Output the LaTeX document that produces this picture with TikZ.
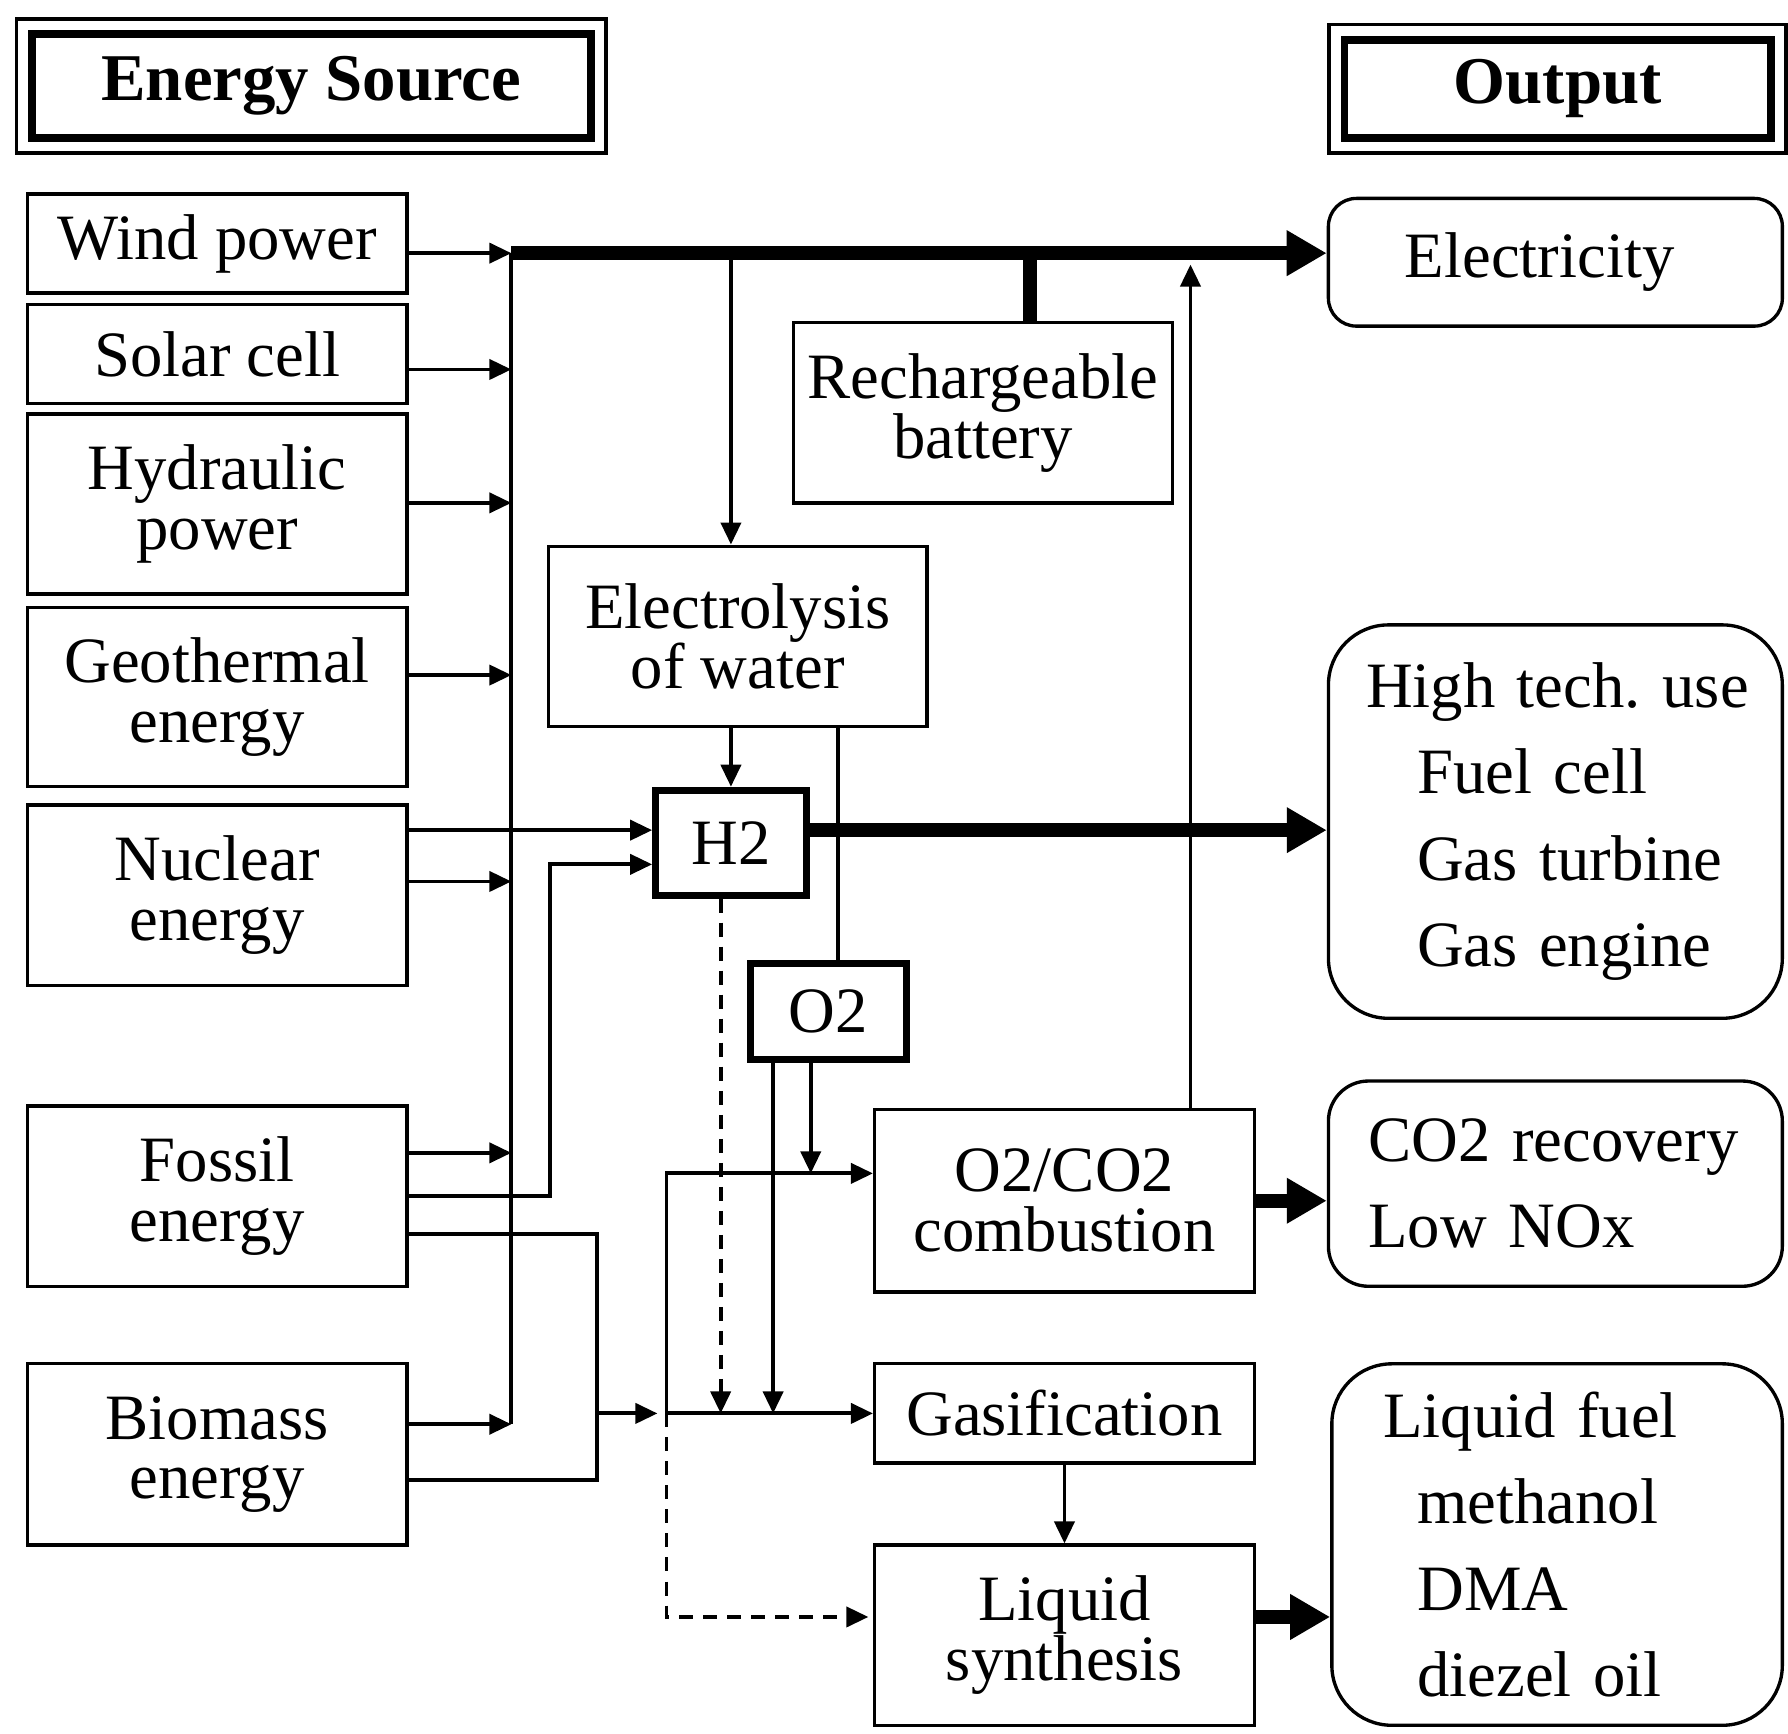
\documentclass[tikz,border=0pt]{standalone}
\usepackage{fontspec}
\setmainfont{Liberation Serif}
\usetikzlibrary{positioning, calc, arrows.meta}
\setlength{\parindent}{0pt}

\tikzset{
  base/.style={draw, line width=0.95pt, inner sep=0pt, align=center, font=\fontsize{18.4}{17}\selectfont},
  boxsize/.style 2 args={minimum width={#1*0.0114cm}, minimum height={#2*0.0114cm}},
  gasbox/.style={base, line width=2pt},
  titlebox/.style={base, line width=2.2pt, font=\fontsize{19}{19}\selectfont\bfseries},
  outbox/.style={base, align=left, font=\fontsize{18.4}{24.5}\selectfont},
  wire/.style={line width=1.1pt},
  conn/.style={wire, -{Triangle[length=0.22cm, width=0.2cm]}},
  heavy/.style={line width=4pt},
  heavyarrow/.style={heavy, -{Triangle[length=0.4cm, width=0.43cm]}},
  dashedline/.style={dash pattern=on 0.14cm off 0.1cm}
}

\begin{document}
\begin{tikzpicture}[x=0.0114cm, y=-0.0114cm]
  \useasboundingbox (0,0) rectangle (1568,1520);

  % headings
  \node[titlebox, boxsize={490}{91}] (srctitle) at (273,75.5) {Energy Source};
  \draw[line width=1pt] ($(srctitle.north west)+(-10,-10)$) rectangle ($(srctitle.south east)+(10,10)$);
  \node[titlebox, boxsize={374}{86}] (outtitle) at (1366,78) {Output};
  \draw[line width=1pt] ($(outtitle.north west)+(-10,-10)$) rectangle ($(outtitle.south east)+(10,10)$);

  % energy sources
  \node[base, boxsize={333}{87}] (wind) at (190.5,213.5) {Wind power};
  \node[base, boxsize={333}{87}] (solar) at (190.5,310.5) {Solar cell};
  \node[base, boxsize={333}{158}] (hydro) at (190.5,442) {Hydraulic\\power};
  \node[base, boxsize={333}{157}] (geo) at (190.5,611.5) {Geothermal\\energy};
  \node[base, boxsize={333}{158}] (nuclear) at (190.5,785) {Nuclear\\energy};
  \node[base, boxsize={333}{158}] (fossil) at (190.5,1049) {Fossil\\energy};
  \node[base, boxsize={333}{159}] (biomass) at (190.5,1275.5) {Biomass\\energy};

  % conversion
  \node[base, boxsize={332}{158}] (battery) at (862,362) {Rechargeable\\battery};
  \node[base, boxsize={332}{158}] (electrolysis) at (647,558) {Electrolysis\\of water};
  \node[gasbox, boxsize={132}{92}] (h2) at (641,739) {H2};
  \node[gasbox, boxsize={137}{84}] (o2) at (726.5,887) {O2};
  \node[base, boxsize={333}{160}] (combustion) at (933.5,1053) {O2/CO2\\combustion};
  \node[base, boxsize={333}{87}] (gasification) at (933.5,1239.5) {Gasification};
  \node[base, boxsize={333}{158}] (synthesis) at (933.5,1434) {Liquid\\synthesis};

  % outputs
  \node[outbox, rounded corners=0.28cm, boxsize={398}{112}, text width=3.01cm, inner xsep=0.764cm] (electricity) at (1364,230) {Electricity};
  \node[outbox, rounded corners=0.6cm, boxsize={398}{345}, text width=3.785cm, inner xsep=0.376cm] (hightech) at (1364,720.5)
    {High~tech.~use\\\hspace*{0.51cm}Fuel~cell\\\hspace*{0.51cm}Gas~turbine\\\hspace*{0.51cm}Gas~engine};
  \node[outbox, rounded corners=0.4cm, boxsize={398}{180}, text width=3.737cm, inner xsep=0.4cm] (co2) at (1364,1038)
    {CO2~recovery\\Low~NOx};
  \node[outbox, rounded corners=0.6cm, boxsize={395}{317}, text width=3.477cm, inner xsep=0.513cm] (fuel) at (1365.5,1354.5)
    {Liquid~fuel\\\hspace*{0.342cm}methanol\\\hspace*{0.342cm}DMA\\\hspace*{0.342cm}diezel~oil};

  % sources to the collecting line
  \coordinate (bustop) at ($(wind.east)+(90,8.5)$);
  \coordinate (busend) at ($(biomass.east)+(90,-26.5)$);
  \draw[wire] (bustop) -- (busend);
  \foreach \src/\dy in {wind/8.5, solar/13.5, hydro/-1, geo/-19.5, nuclear/-12, fossil/-38, biomass/-26.5}
    \draw[conn] ($(\src.east)+(0,\dy)$) -- ++(90,0);

  % electricity
  \draw[heavyarrow] (bustop) -- (electricity.west |- bustop);
  \draw[heavy] ($(battery.north)+(41,0)$) coordinate (bat) -- (bat |- bustop);
  \draw[conn] (h2 |- bustop) -- (h2 |- electrolysis.north);
  \draw[conn] ($(combustion.north)+(110.5,0)$) coordinate (back) -- ($(back |- bustop)+(0,10)$);

  % hydrogen and oxygen
  \draw[conn] (h2 |- electrolysis.south) -- (h2.north);
  \draw[wire] ($(o2.north)+(8.5,0)$) coordinate (ox) -- (ox |- electrolysis.south);
  \coordinate (h2in) at ($(h2.west)+(0,-11)$);
  \draw[conn] (nuclear.east |- h2in) -- (h2in);
  \draw[heavyarrow] (h2.east |- h2in) -- (hightech.west |- h2in);
  \draw[conn] (fossil.east) -- ++(124,0) |- ($(h2.west)+(0,19)$);

  % fossil and biomass fuels
  \draw[wire] ($(fossil.east)+(0,33)$) -- ++(165,0) coordinate (mix) |- ($(biomass.east)+(0,22.5)$);
  \coordinate (split) at ($(gasification.west)+(-181,0)$);
  \coordinate (combin) at ($(combustion.west)+(0,-24)$);
  \draw[conn] (mix |- split) -- ($(split)+(-8,0)$);
  \draw[conn] (split) |- (combin);
  \draw[conn] (split) -- (gasification.west);
  \draw[conn, dashedline] (split) |- ($(synthesis.west)+(-4,-16)$);
  \draw[conn, dashedline] ($(h2.south)+(-9,0)$) coordinate (hd) -- (hd |- split);
  \draw[conn] ($(o2.south)+(-48.5,0)$) coordinate (oa) -- (oa |- split);
  \draw[conn] ($(o2.south)+(-15.5,0)$) coordinate (ob) -- (ob |- combin);
  \draw[conn] (gasification.south) -- (gasification.south |- synthesis.north);

  % to outputs
  \draw[heavyarrow] (combustion.east) -- (co2.west |- combustion.east);
  \draw[heavyarrow] ($(synthesis.east)+(0,-16)$) coordinate (se) -- (se -| fuel.west);
\end{tikzpicture}
\end{document}
